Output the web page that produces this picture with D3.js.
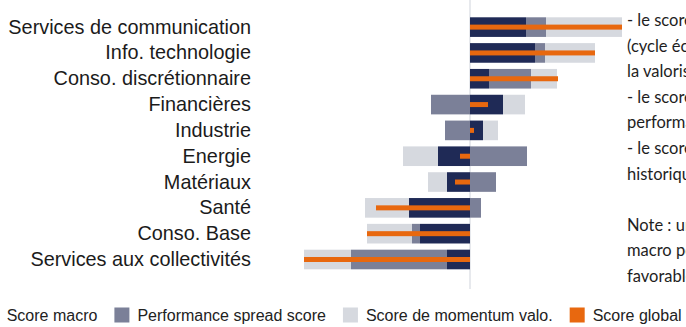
<!DOCTYPE html>
<html>
<head>
<meta charset="utf-8">
<script src="https://cdn.jsdelivr.net/npm/d3@7"></script>
<style>
  html, body { margin: 0; padding: 0; background: #fff; overflow: hidden; }
  svg { display: block; }
</style>
</head>
<body>
<svg id="chart" width="686" height="327"></svg>
<script>
// Sector scores (one value per sector in each series)
const categories = [
  "Services de communication", "Info. technologie", "Conso. discrétionnaire",
  "Financières", "Industrie", "Energie", "Matériaux", "Santé",
  "Conso. Base", "Services aux collectivités"
];
const scoreMacro    = [0.56, 0.65, 0.19, 0.33, 0.13, -0.32, -0.23, -0.61, -0.50, -0.23];
const perfSpread    = [0.20, 0.10, 0.42, -0.39, -0.25, 0.57, 0.26, 0.11, -0.08, -0.96];
const momentumValo  = [0.76, 0.50, 0.26, 0.22, 0.15, -0.35, -0.19, -0.44, -0.45, -0.47];
const scoreGlobal   = [1.52, 1.25, 0.88, 0.18, 0.04, -0.10, -0.15, -0.94, -1.03, -1.66];

const seriesNames = ["Score macro", "Performance spread score", "Score de momentum valo.", "Score global"];
const sideNotes = [
  "- le score macro",
  "(cycle économique) et",
  "la valorisation relative",
  "- le score de",
  "performance relative",
  "- le score de momentum",
  "historique",
  "",
  "Note : un score",
  "macro positif est",
  "favorable"
];

const colors = {
  macro: "#1f2a56",
  perf: "#7b8098",
  momentum: "#d6d9df",
  global: "#e8680f"
};

const svg = d3.select("#chart");

const rows = categories.map((c, i) => ({
  cat: c, macro: scoreMacro[i], perf: perfSpread[i], momentum: momentumValo[i], global: scoreGlobal[i]
}));

const x = d3.scaleLinear().domain([-1, 1]).range([370, 570]);
const y = d3.scaleBand().domain(categories).range([11.1, 275.5]).padding(0.24);

// zero reference line
svg.append("line")
  .attr("x1", x(0)).attr("x2", x(0))
  .attr("y1", 0).attr("y2", 289)
  .attr("stroke", "#dfe2e7").attr("stroke-width", 1.5);

// stacked components, positives to the right and negatives to the left
const keys = ["macro", "perf", "momentum"];
const stacked = d3.stack().keys(keys).offset(d3.stackOffsetDiverging)(rows);

svg.append("g").selectAll("g")
  .data(stacked)
  .join("g")
  .attr("fill", d => colors[d.key])
  .selectAll("rect")
  .data(d => d)
  .join("rect")
  .attr("x", d => x(Math.min(d[0], d[1])))
  .attr("width", d => Math.abs(x(d[1]) - x(d[0])))
  .attr("y", d => y(d.data.cat))
  .attr("height", y.bandwidth());

// global score as a thin bar on top
const gh = 5;
svg.append("g").selectAll("rect")
  .data(rows)
  .join("rect")
  .attr("fill", colors.global)
  .attr("x", d => x(Math.min(0, d.global)))
  .attr("width", d => Math.abs(x(d.global) - x(0)))
  .attr("y", d => y(d.cat) + y.bandwidth() / 2 - gh / 2)
  .attr("height", gh);

// category labels
const yAxis = d3.axisLeft(y).tickSize(0).tickPadding(0);
const ax = svg.append("g").attr("transform", "translate(251,0)").call(yAxis);
ax.select(".domain").remove();
ax.selectAll("text")
  .attr("font-family", "'Liberation Sans', Arial, sans-serif")
  .attr("font-size", 19.85)
  .attr("fill", "#1b1b1b")
  .attr("dy", "0.33em");

// legend
const legendItems = [
  { name: seriesNames[0], color: colors.macro },
  { name: seriesNames[1], color: colors.perf },
  { name: seriesNames[2], color: colors.momentum },
  { name: seriesNames[3], color: colors.global }
];
const lg = svg.append("g").attr("transform", "translate(0,315)");
let lx = -16.3;
legendItems.forEach(item => {
  lg.append("rect").attr("x", lx).attr("y", -7.5).attr("width", 15).attr("height", 15).attr("fill", item.color);
  const t = lg.append("text")
    .attr("x", lx + 23).attr("y", 0).attr("dy", "0.36em")
    .attr("font-family", "'Liberation Sans', Arial, sans-serif")
    .attr("font-size", 16).attr("fill", "#222")
    .text(item.name);
  lx = lx + 23 + t.node().getComputedTextLength() + 17;
});

// side commentary (runs past the right edge)
svg.append("g").selectAll("text")
  .data(sideNotes)
  .join("text")
  .attr("x", 627)
  .attr("y", (d, i) => 26 + i * 25.6)
  .attr("font-family", "Lato, 'Noto Sans', sans-serif")
  .attr("font-size", 16.5)
  .attr("fill", "#1e1e1e")
  .text(d => d);
</script>
</body>
</html>
